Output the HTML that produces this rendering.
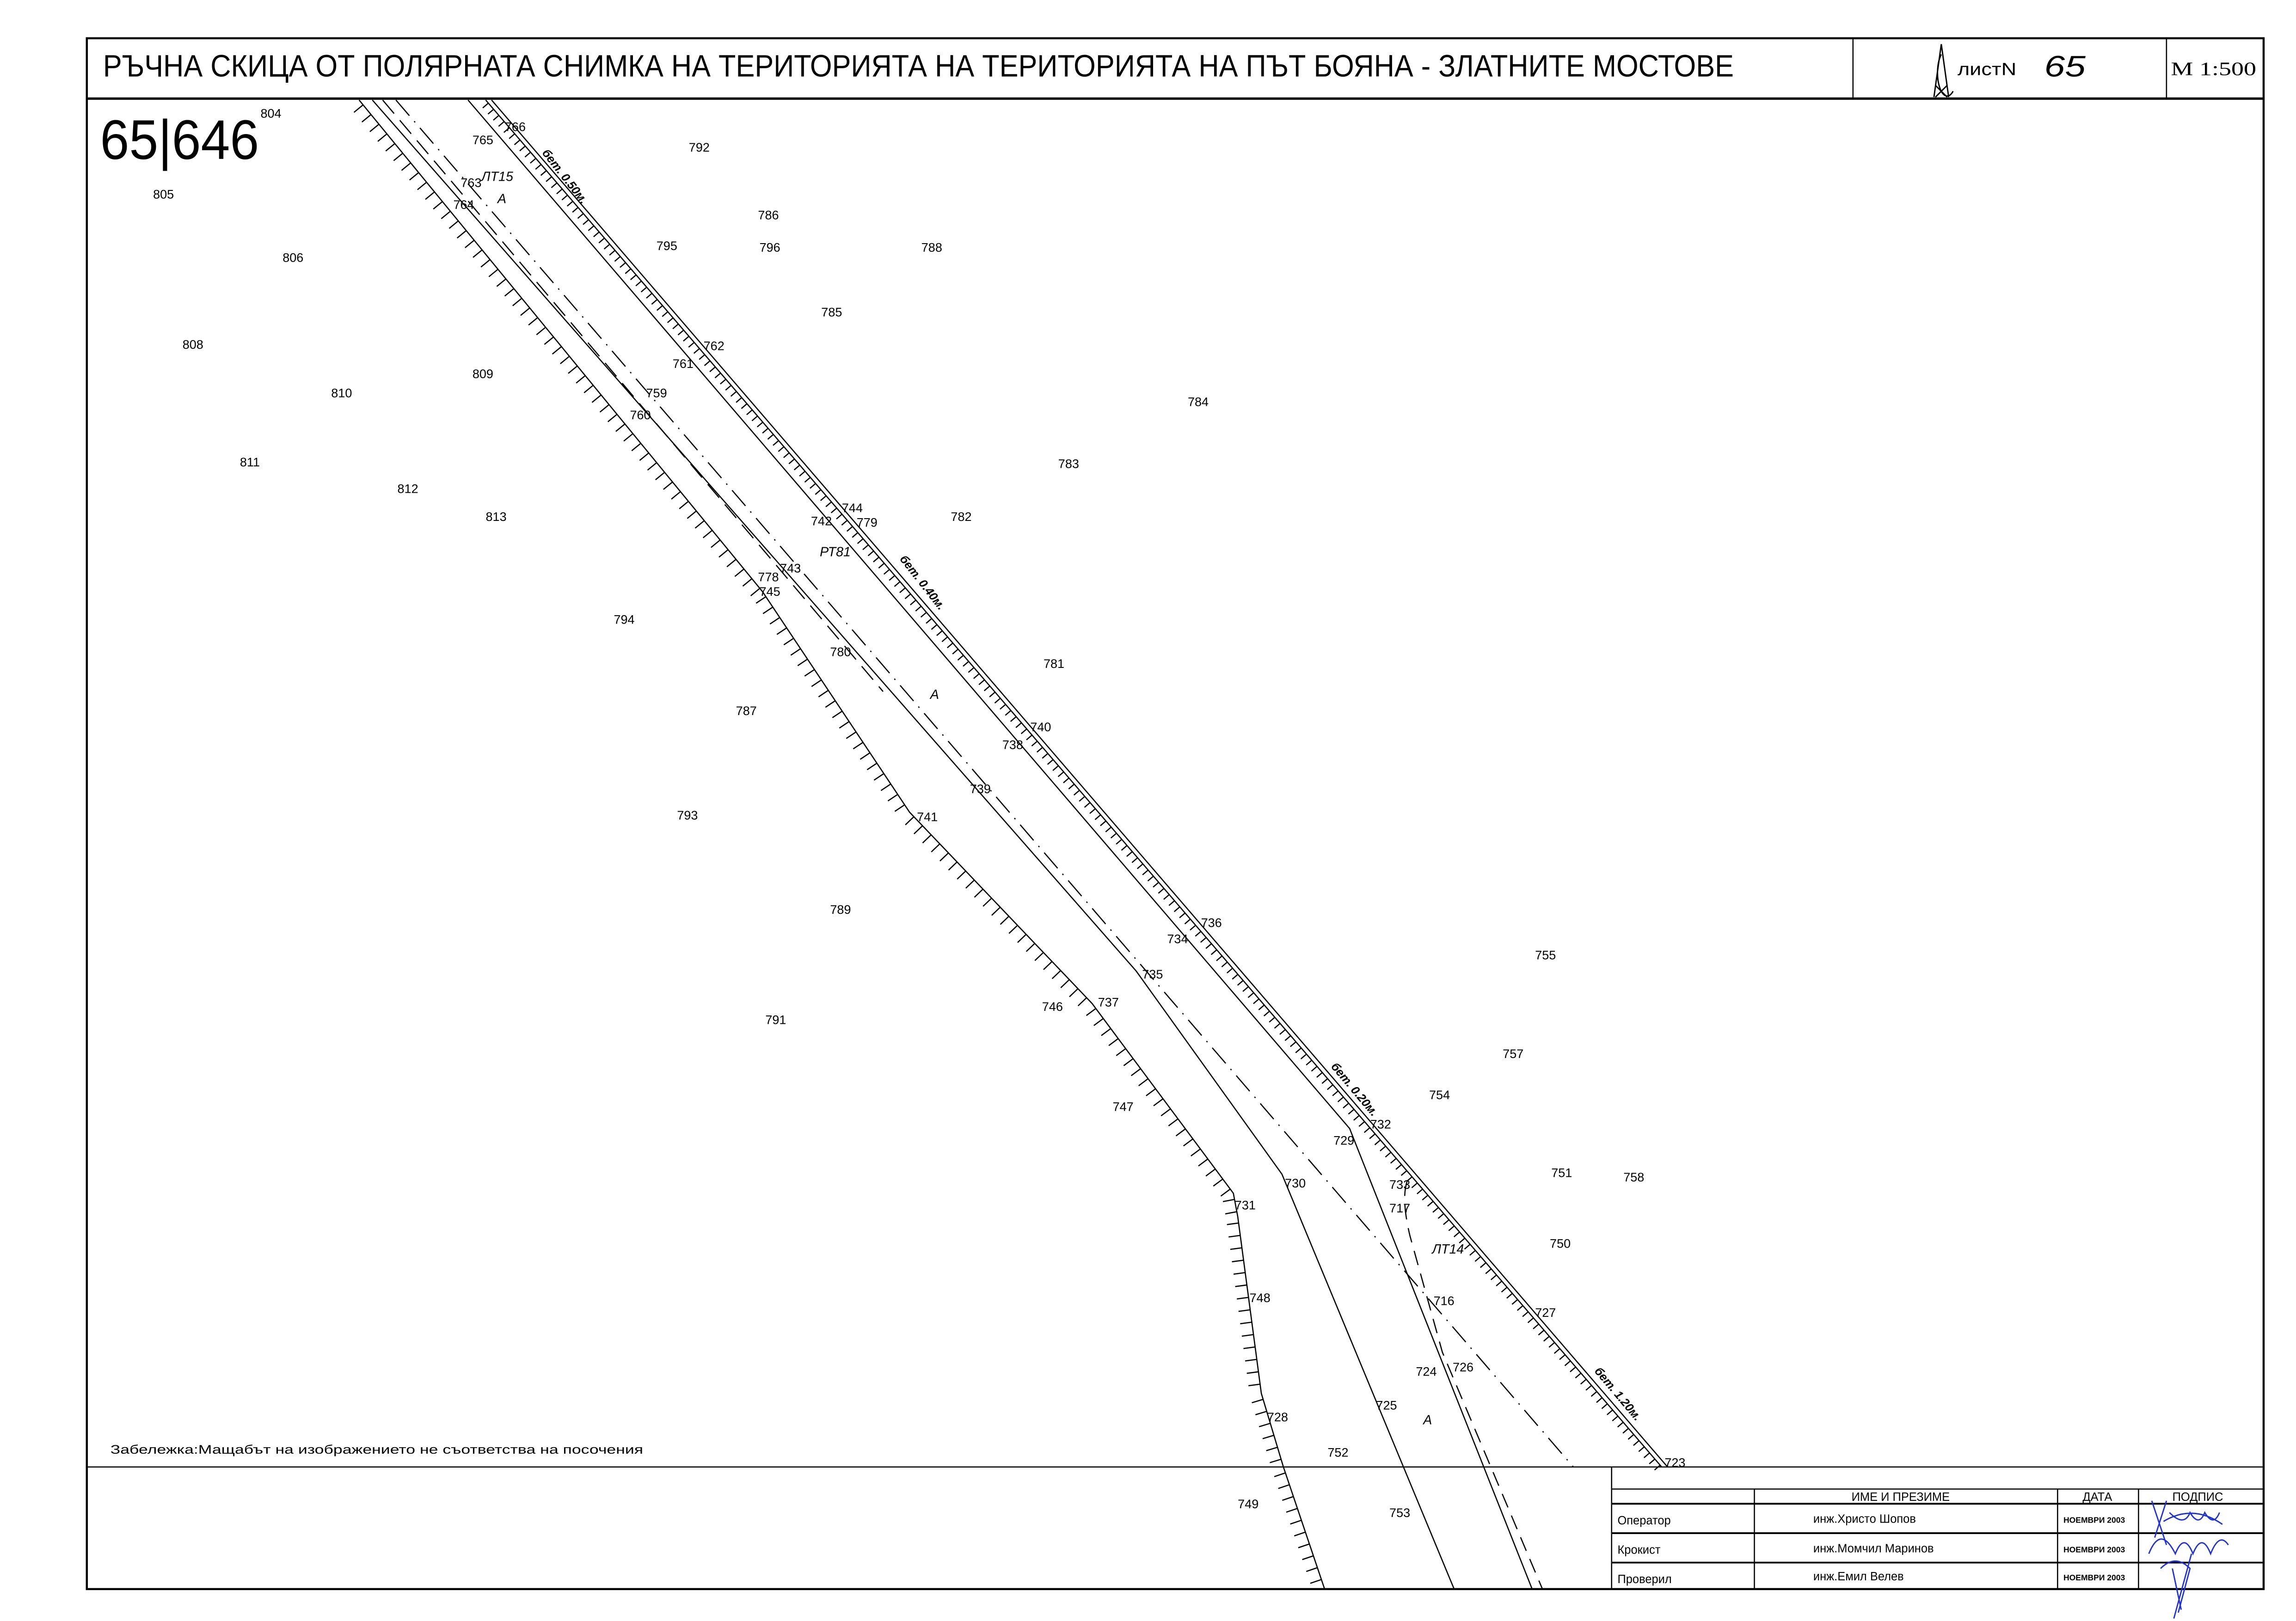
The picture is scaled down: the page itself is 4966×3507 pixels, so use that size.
<!DOCTYPE html>
<html><head><meta charset="utf-8"><style>
html,body{margin:0;padding:0;background:#fff;}
svg{display:block;}
text{font-family:"Liberation Sans","DejaVu Sans",sans-serif;fill:#000;}
.n{font-size:8.5px;}
.it{font-family:"Liberation Serif",serif;font-style:italic;font-size:9px;}
.tb{font-size:8px;}
</style></head><body>
<svg id="s" width="4966" height="3507" viewBox="0 0 1560 1101.7" preserveAspectRatio="none" xmlns="http://www.w3.org/2000/svg">
<rect width="1560" height="1101.7" fill="#fff"/>
<g id="lines" fill="none" stroke="#000" stroke-width="0.8">
<rect x="59" y="26" width="1479" height="1054" stroke-width="1.4"/>
<line x1="59" y1="67" x2="1538" y2="67" stroke-width="1.6"/>
<line x1="1259" y1="26" x2="1259" y2="67"/>
<line x1="1472" y1="26" x2="1472" y2="67"/>
<line x1="59" y1="997" x2="1538" y2="997"/>
<line x1="1095" y1="997" x2="1095" y2="1080"/>
<line x1="1095" y1="1012" x2="1538" y2="1012"/>
<line x1="1095" y1="1022" x2="1538" y2="1022" stroke-width="1.2"/>
<line x1="1095" y1="1042" x2="1538" y2="1042" stroke-width="1.2"/>
<line x1="1095" y1="1062" x2="1538" y2="1062" stroke-width="1.2"/>
<line x1="1192" y1="1012" x2="1192" y2="1080"/>
<line x1="1398" y1="1012" x2="1398" y2="1080"/>
<line x1="1453" y1="1012" x2="1453" y2="1080"/>
<polyline id="L1" points="244,68 518,402 618,552 742,682 838,811 841,827 857,947 872,997 900,1080"/>
<polyline points="253,68 772,660 871,798 988,1080"/>
<polyline points="260,68 600,470" stroke-dasharray="12,6"/>
<polyline points="269,68 1069,997" stroke-dasharray="14,5,1,5"/>
<polyline points="318,68 917,767 1041,1080"/>
<polyline id="R2" points="330,68 1129,997"/>
<polyline points="334,68 1133,997"/>
<path d="M956,803 Q952,815 958,840 L980,919 L1048,1080" stroke-dasharray="10,6"/>
</g>
<g id="ticks" stroke="#000" stroke-width="0.8"></g>
<text x="70" y="52" font-size="21" textLength="1108" lengthAdjust="spacingAndGlyphs">РЪЧНА СКИЦА ОТ ПОЛЯРНАТА СНИМКА НА ТЕРИТОРИЯТА НА ТЕРИТОРИЯТА НА ПЪТ БОЯНА - ЗЛАТНИТЕ МОСТОВЕ</text>
<g fill="none" stroke="#000" stroke-width="0.9">
<path d="M1319,37 A5,12 0 1,0 1327,62 M1319,30 L1314,66 M1319,30 L1324,66 M1315,66 L1323,58 M1323,66 L1315,58"/>
</g>
<text x="1330" y="51" font-size="12" textLength="40" lengthAdjust="spacingAndGlyphs">листN</text>
<text x="1389" y="52" font-size="20" font-style="italic" textLength="28" lengthAdjust="spacingAndGlyphs">65</text>
<text x="1475" y="51" font-size="13" style="font-family:'Liberation Serif',serif" textLength="58" lengthAdjust="spacingAndGlyphs">М 1:500</text>
<text x="68" y="108" font-size="38" textLength="108" lengthAdjust="spacingAndGlyphs" fill="#222">65|646</text>
<text x="75" y="988" font-size="8.5" textLength="362" lengthAdjust="spacingAndGlyphs">Забележка:Мащабът на изображението не съответства на посочения</text>
<text class="tb" x="1258" y="1020">ИМЕ И ПРЕЗИМЕ</text>
<text class="tb" x="1415" y="1020">ДАТА</text>
<text class="tb" x="1476" y="1020">ПОДПИС</text>
<text class="tb" x="1099" y="1036">Оператор</text>
<text class="tb" x="1099" y="1056">Крокист</text>
<text class="tb" x="1099" y="1076">Проверил</text>
<text class="tb" x="1232" y="1035">инж.Христо Шопов</text>
<text class="tb" x="1232" y="1055">инж.Момчил Маринов</text>
<text class="tb" x="1232" y="1074">инж.Емил Велев</text>
<text x="1402" y="1035" font-size="5.5" font-weight="bold">НОЕМВРИ 2003</text>
<text x="1402" y="1055" font-size="5.5" font-weight="bold">НОЕМВРИ 2003</text>
<text x="1402" y="1074" font-size="5.5" font-weight="bold">НОЕМВРИ 2003</text>
<g fill="none" stroke="#2233cc" stroke-width="0.9">
<path d="M1462,1020 L1472,1050 M1472,1020 L1464,1045 M1470,1034 q20,-12 40,2 M1474,1028 q10,10 14,0 q6,10 10,0 q6,10 10,0 M1460,1056 q8,-20 18,0 q6,-15 12,0 q6,-15 12,0 q6,-15 12,-6 M1468,1066 q10,-10 20,0 l-8,30 M1476,1066 l6,28 M1489,1056 l-12,44"/>
</g>
<g class="n" transform="translate(-3,-1)">
<text x="180" y="81">804</text><text x="107" y="136">805</text><text x="195" y="179">806</text>
<text x="127" y="238">808</text><text x="228" y="271">810</text><text x="324" y="258">809</text>
<text x="166" y="318">811</text><text x="273" y="336">812</text><text x="333" y="355">813</text>
<text x="324" y="99">765</text><text x="346" y="90">766</text><text x="316" y="128">763</text><text x="311" y="143">764</text>
<text x="471" y="104">792</text><text x="518" y="150">786</text><text x="449" y="171">795</text><text x="519" y="172">796</text>
<text x="629" y="172">788</text><text x="561" y="216">785</text><text x="481" y="239">762</text><text x="460" y="251">761</text>
<text x="442" y="271">759</text><text x="431" y="286">760</text><text x="810" y="277">784</text><text x="722" y="319">783</text>
<text x="575" y="349">744</text><text x="554" y="358">742</text><text x="585" y="359">779</text><text x="649" y="355">782</text>
<text x="533" y="390">743</text><text x="518" y="396">778</text><text x="519" y="406">745</text><text x="420" y="425">794</text>
<text x="567" y="447">780</text><text x="712" y="455">781</text><text x="503" y="487">787</text><text x="703" y="498">740</text>
<text x="684" y="510">738</text><text x="662" y="540">739</text><text x="626" y="559">741</text><text x="463" y="558">793</text>
<text x="567" y="622">789</text><text x="819" y="631">736</text><text x="796" y="642">734</text><text x="1046" y="653">755</text>
<text x="779" y="666">735</text><text x="749" y="685">737</text><text x="711" y="688">746</text><text x="523" y="697">791</text>
<text x="1024" y="720">757</text><text x="974" y="748">754</text><text x="759" y="756">747</text><text x="934" y="768">732</text>
<text x="909" y="779">729</text><text x="1057" y="801">751</text><text x="1106" y="804">758</text><text x="947" y="809">733</text>
<text x="876" y="808">730</text><text x="842" y="823">731</text><text x="947" y="825">717</text><text x="1056" y="849">750</text>
<text x="977" y="888">716</text><text x="1046" y="896">727</text><text x="852" y="886">748</text><text x="965" y="936">724</text>
<text x="990" y="933">726</text><text x="938" y="959">725</text><text x="864" y="967">728</text><text x="905" y="991">752</text>
<text x="1134" y="998">723</text><text x="844" y="1026">749</text><text x="947" y="1032">753</text>
</g>
<g class="it" transform="translate(-3,-1)">
<text x="330" y="124">ЛТ15</text><text x="341" y="139">А</text><text x="560" y="379">РТ81</text>
<text x="635" y="476">А</text><text x="976" y="853">ЛТ14</text><text x="970" y="969">А</text>
</g>
<g font-size="8" font-style="italic" font-weight="bold">
<text transform="translate(368,104) rotate(52)">бет. 0.50м.</text>
<text transform="translate(611,380) rotate(52)">бет. 0.40м.</text>
<text transform="translate(904,725) rotate(50)">бет. 0.20м.</text>
<text transform="translate(1083,932) rotate(50)">бет. 1.20м.</text>
</g>
</svg>
<script>
(function(){
var NS="http://www.w3.org/2000/svg",g=document.getElementById("ticks");
function ticks(pts,side,len,sp){
 for(var i=0;i<pts.length-1;i++){
  var a=pts[i],b=pts[i+1],dx=b[0]-a[0],dy=b[1]-a[1],L=Math.hypot(dx,dy);
  var ux=dx/L,uy=dy/L,nx=-uy*side,ny=ux*side;
  for(var t=sp/2;t<L;t+=sp){
   var x=a[0]+ux*t,y=a[1]+uy*t,l=document.createElementNS(NS,"line");
   l.setAttribute("x1",x);l.setAttribute("y1",y);
   l.setAttribute("x2",x+nx*len);l.setAttribute("y2",y+ny*len);g.appendChild(l);
  }
 }
}
ticks([[244,68],[518,402],[618,552],[742,682],[838,811],[841,827],[857,947],[872,997],[900,1080]],1,8,8.5);
ticks([[330,68],[1129,997]],1,5,5.5);
})();
</script>
</body></html>
